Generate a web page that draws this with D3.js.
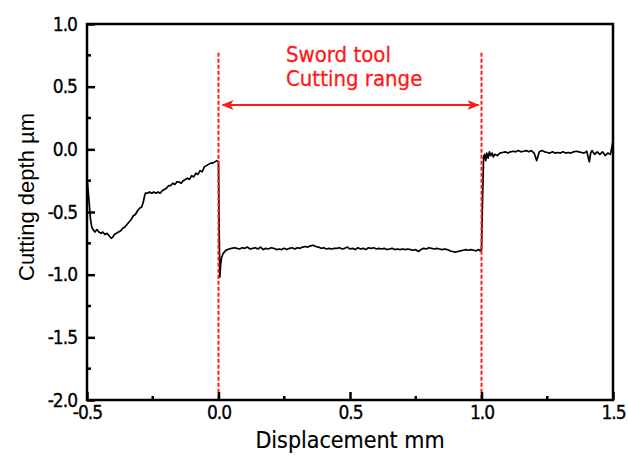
<!DOCTYPE html>
<html><head><meta charset="utf-8">
<script src="https://cdn.jsdelivr.net/npm/d3@7"></script>
<style>body{margin:0;background:#fff}svg{display:block}</style>
</head><body>
<script>
// ---- data ----
const xTicks = [-0.5, 0.0, 0.5, 1.0, 1.5];
const xTickLabels = ["-0.5", "0.0", "0.5", "1.0", "1.5"];
const yTicks = [1.0, 0.5, 0.0, -0.5, -1.0, -1.5, -2.0];
const yTickLabels = ["1.0", "0.5", "0.0", "-0.5", "-1.0", "-1.5", "-2.0"];
const xLabel = "Displacement mm";
const yLabel = "Cutting depth µm";
const annotationLines = ["Sword tool", "Cutting range"];
const rangeMarks = [0.0, 1.0];

// profile before the tool (x mm, depth µm)
const profileLeft = [
[-0.500,-0.22],[-0.497,-0.30],[-0.492,-0.42],[-0.487,-0.55],[-0.482,-0.62],[-0.477,-0.64],[-0.470,-0.66],[-0.462,-0.64],
[-0.455,-0.66],[-0.447,-0.67],[-0.440,-0.66],[-0.432,-0.68],[-0.424,-0.67],[-0.416,-0.69],[-0.408,-0.71],[-0.402,-0.70],
[-0.396,-0.68],[-0.388,-0.67],[-0.380,-0.66],[-0.372,-0.65],[-0.364,-0.63],[-0.356,-0.62],[-0.348,-0.60],[-0.340,-0.58],
[-0.332,-0.56],[-0.324,-0.53],[-0.316,-0.52],[-0.308,-0.49],[-0.300,-0.47],[-0.292,-0.46],[-0.286,-0.42],[-0.282,-0.38],
[-0.278,-0.35],[-0.270,-0.35],[-0.262,-0.34],[-0.254,-0.35],[-0.246,-0.34],[-0.238,-0.35],[-0.230,-0.34],[-0.222,-0.35],
[-0.214,-0.33],[-0.206,-0.32],[-0.198,-0.31],[-0.190,-0.29],[-0.182,-0.29],[-0.174,-0.27],[-0.166,-0.28],[-0.158,-0.26],
[-0.150,-0.26],[-0.142,-0.27],[-0.134,-0.25],[-0.126,-0.24],[-0.118,-0.23],[-0.110,-0.24],[-0.102,-0.21],[-0.094,-0.22],
[-0.086,-0.19],[-0.078,-0.20],[-0.070,-0.17],[-0.062,-0.18],[-0.054,-0.14],[-0.046,-0.13],[-0.038,-0.12],[-0.030,-0.11],
[-0.022,-0.11],[-0.014,-0.10],[-0.006,-0.09],[0.000,-0.10]
];
// profile inside the sword-tool cutting range
const profileMiddle = [
[0.002,-0.55],[0.005,-1.02],[0.008,-0.92],[0.012,-0.86],[0.018,-0.83],[0.026,-0.81],[0.035,-0.80],
[0.040,-0.795],[0.050,-0.79],[0.060,-0.785],[0.070,-0.79],[0.080,-0.795],[0.090,-0.785],[0.100,-0.79],[0.110,-0.78],
[0.120,-0.795],[0.130,-0.79],[0.140,-0.785],[0.150,-0.795],[0.160,-0.78],[0.170,-0.80],[0.180,-0.79],[0.190,-0.795],
[0.200,-0.785],[0.210,-0.79],[0.220,-0.80],[0.230,-0.795],[0.240,-0.80],[0.250,-0.79],[0.260,-0.80],[0.270,-0.79],
[0.280,-0.785],[0.290,-0.795],[0.300,-0.785],[0.310,-0.79],[0.320,-0.78],[0.330,-0.775],[0.340,-0.78],[0.350,-0.77],
[0.360,-0.765],[0.370,-0.775],[0.380,-0.78],[0.390,-0.79],[0.400,-0.785],[0.410,-0.795],[0.420,-0.79],[0.430,-0.795],
[0.440,-0.79],[0.450,-0.79],[0.460,-0.785],[0.470,-0.795],[0.480,-0.79],[0.490,-0.78],[0.500,-0.795],[0.510,-0.79],
[0.520,-0.80],[0.530,-0.785],[0.540,-0.795],[0.550,-0.79],[0.560,-0.80],[0.570,-0.785],[0.580,-0.79],[0.590,-0.785],
[0.600,-0.795],[0.610,-0.79],[0.620,-0.795],[0.630,-0.79],[0.640,-0.80],[0.650,-0.795],[0.660,-0.79],[0.670,-0.80],
[0.680,-0.795],[0.690,-0.80],[0.700,-0.795],[0.710,-0.80],[0.720,-0.795],[0.730,-0.80],[0.740,-0.805],[0.750,-0.80],
[0.760,-0.815],[0.770,-0.80],[0.780,-0.79],[0.790,-0.795],[0.800,-0.785],[0.810,-0.79],[0.820,-0.795],[0.830,-0.79],
[0.840,-0.795],[0.850,-0.80],[0.860,-0.795],[0.870,-0.80],[0.880,-0.81],[0.890,-0.815],[0.900,-0.82],[0.910,-0.815],
[0.920,-0.81],[0.930,-0.805],[0.940,-0.80],[0.950,-0.805],[0.960,-0.80],[0.970,-0.805],[0.980,-0.81],[0.990,-0.80],
[0.995,-0.81],[1.000,-0.80]
];
// profile after the tool
const profileRight = [
[1.004,-0.40],[1.008,-0.06],[1.012,-0.04],[1.016,-0.09],[1.020,-0.03],[1.025,-0.07],[1.030,-0.02],[1.035,-0.05],
[1.040,-0.03],[1.045,-0.06],[1.050,-0.04],[1.060,-0.05],[1.070,-0.03],[1.080,-0.025],[1.090,-0.02],[1.100,-0.03],
[1.110,-0.02],[1.120,-0.015],[1.130,-0.02],[1.140,-0.01],[1.150,-0.02],[1.160,-0.015],[1.170,-0.01],[1.180,-0.02],
[1.190,-0.01],[1.200,-0.03],[1.210,-0.09],[1.220,-0.02],[1.230,-0.01],[1.240,-0.02],[1.250,-0.025],[1.260,-0.03],
[1.270,-0.02],[1.280,-0.03],[1.290,-0.025],[1.300,-0.03],[1.310,-0.02],[1.320,-0.03],[1.330,-0.025],[1.340,-0.03],
[1.350,-0.02],[1.360,-0.015],[1.370,-0.02],[1.380,-0.025],[1.390,-0.03],[1.400,-0.015],[1.410,-0.10],[1.415,-0.03],
[1.420,-0.01],[1.430,-0.04],[1.440,-0.02],[1.450,-0.04],[1.460,-0.02],[1.470,-0.05],[1.480,-0.03],[1.490,-0.04],
[1.495,0.01],[1.500,0.07]
];

// ---- chart ----
const W = 628, H = 461;
const m = {left: 87, right: 15, top: 24, bottom: 61};
const x = d3.scaleLinear().domain([-0.5, 1.5]).range([m.left, W - m.right]);
const y = d3.scaleLinear().domain([-2, 1]).range([H - m.bottom, m.top]);
const font = "'DejaVu Sans Condensed','DejaVu Sans',sans-serif";

const svg = d3.select("body").append("svg").attr("width", W).attr("height", H);

// data line
const profile = profileLeft.concat(profileMiddle, profileRight);
svg.append("path").datum(profile)
  .attr("fill", "none").attr("stroke", "#000").attr("stroke-width", 1.7)
  .attr("stroke-linejoin", "round")
  .attr("d", d3.line().x(d => x(d[0])).y(d => y(d[1])));

// red dashed range marks
svg.selectAll("line.mark").data(rangeMarks).join("line").attr("class", "mark")
  .attr("x1", d => x(d)).attr("x2", d => x(d))
  .attr("y1", y(0.77)).attr("y2", y(-2))
  .attr("stroke", "#ff1a1a").attr("stroke-width", 2).attr("stroke-dasharray", "4,2");

// axes (ticks inside)
const xMinor = d3.range(-0.25, 1.5, 0.5);
const yMinor = d3.range(-1.75, 1, 0.5);
const gx = svg.append("g").attr("transform", `translate(0,${y(-2)})`)
  .call(d3.axisBottom(x).tickValues(xTicks).tickSizeInner(-8).tickSizeOuter(0)
    .tickPadding(6).tickFormat((d, i) => xTickLabels[i]));
gx.append("g").selectAll("line").data(xMinor).join("line")
  .attr("x1", d => x(d)).attr("x2", d => x(d)).attr("y1", 0).attr("y2", -4)
  .attr("stroke", "#000").attr("stroke-width", 2.5);
const gy = svg.append("g").attr("transform", `translate(${x(-0.5)},0)`)
  .call(d3.axisLeft(y).tickValues(yTicks).tickSizeInner(-8).tickSizeOuter(0)
    .tickPadding(10).tickFormat((d, i) => yTickLabels[i]));
gy.append("g").selectAll("line").data(yMinor).join("line")
  .attr("x1", 0).attr("x2", 4).attr("y1", d => y(d)).attr("y2", d => y(d))
  .attr("stroke", "#000").attr("stroke-width", 2.5);
[gx, gy].forEach(g => {
  g.select(".domain").remove();
  g.selectAll(".tick line").attr("stroke", "#000").attr("stroke-width", 2.5);
  g.selectAll(".tick text").attr("fill", "#000").style("font-family", font)
    .style("font-size", "19px").style("letter-spacing", "-1px")
    .attr("stroke", "#000").attr("stroke-width", 0.3);
});

// frame
svg.append("rect").attr("x", x(-0.5)).attr("y", y(1))
  .attr("width", x(1.5) - x(-0.5)).attr("height", y(-2) - y(1))
  .attr("fill", "none").attr("stroke", "#000").attr("stroke-width", 2.5);

// axis titles
svg.append("text").attr("x", (x(-0.5) + x(1.5)) / 2).attr("y", 448)
  .attr("text-anchor", "middle").style("font-family", font).style("font-size", "23px")
  .attr("stroke", "#000").attr("stroke-width", 0.2)
  .text(xLabel);
svg.append("text").attr("transform", `translate(34,197) rotate(-90)`)
  .attr("text-anchor", "middle").style("font-family", "'Liberation Sans',Arial,sans-serif")
  .style("font-size", "22px").text(yLabel);

// annotation
const red = "#ff1a1a";
const ann = svg.append("text").attr("fill", red).style("font-family", font).style("font-size", "22px")
  .attr("stroke", red).attr("stroke-width", 0.3);
ann.selectAll("tspan").data(annotationLines).join("tspan")
  .attr("x", 286).attr("y", (d, i) => 62 + i * 24).text(d => d);
svg.append("defs").append("marker").attr("id", "ah").attr("viewBox", "0 0 12 10")
  .attr("refX", 11).attr("refY", 5).attr("markerWidth", 12).attr("markerHeight", 10)
  .attr("markerUnits", "userSpaceOnUse").attr("orient", "auto-start-reverse")
  .append("path").attr("d", "M0,0 L12,5 L0,10 L3,5 Z").attr("fill", red);
svg.append("line").attr("x1", x(0) + 4).attr("x2", x(1) - 3).attr("y1", 105).attr("y2", 105)
  .attr("stroke", red).attr("stroke-width", 2)
  .attr("marker-start", "url(#ah)").attr("marker-end", "url(#ah)");
</script>
</body></html>
